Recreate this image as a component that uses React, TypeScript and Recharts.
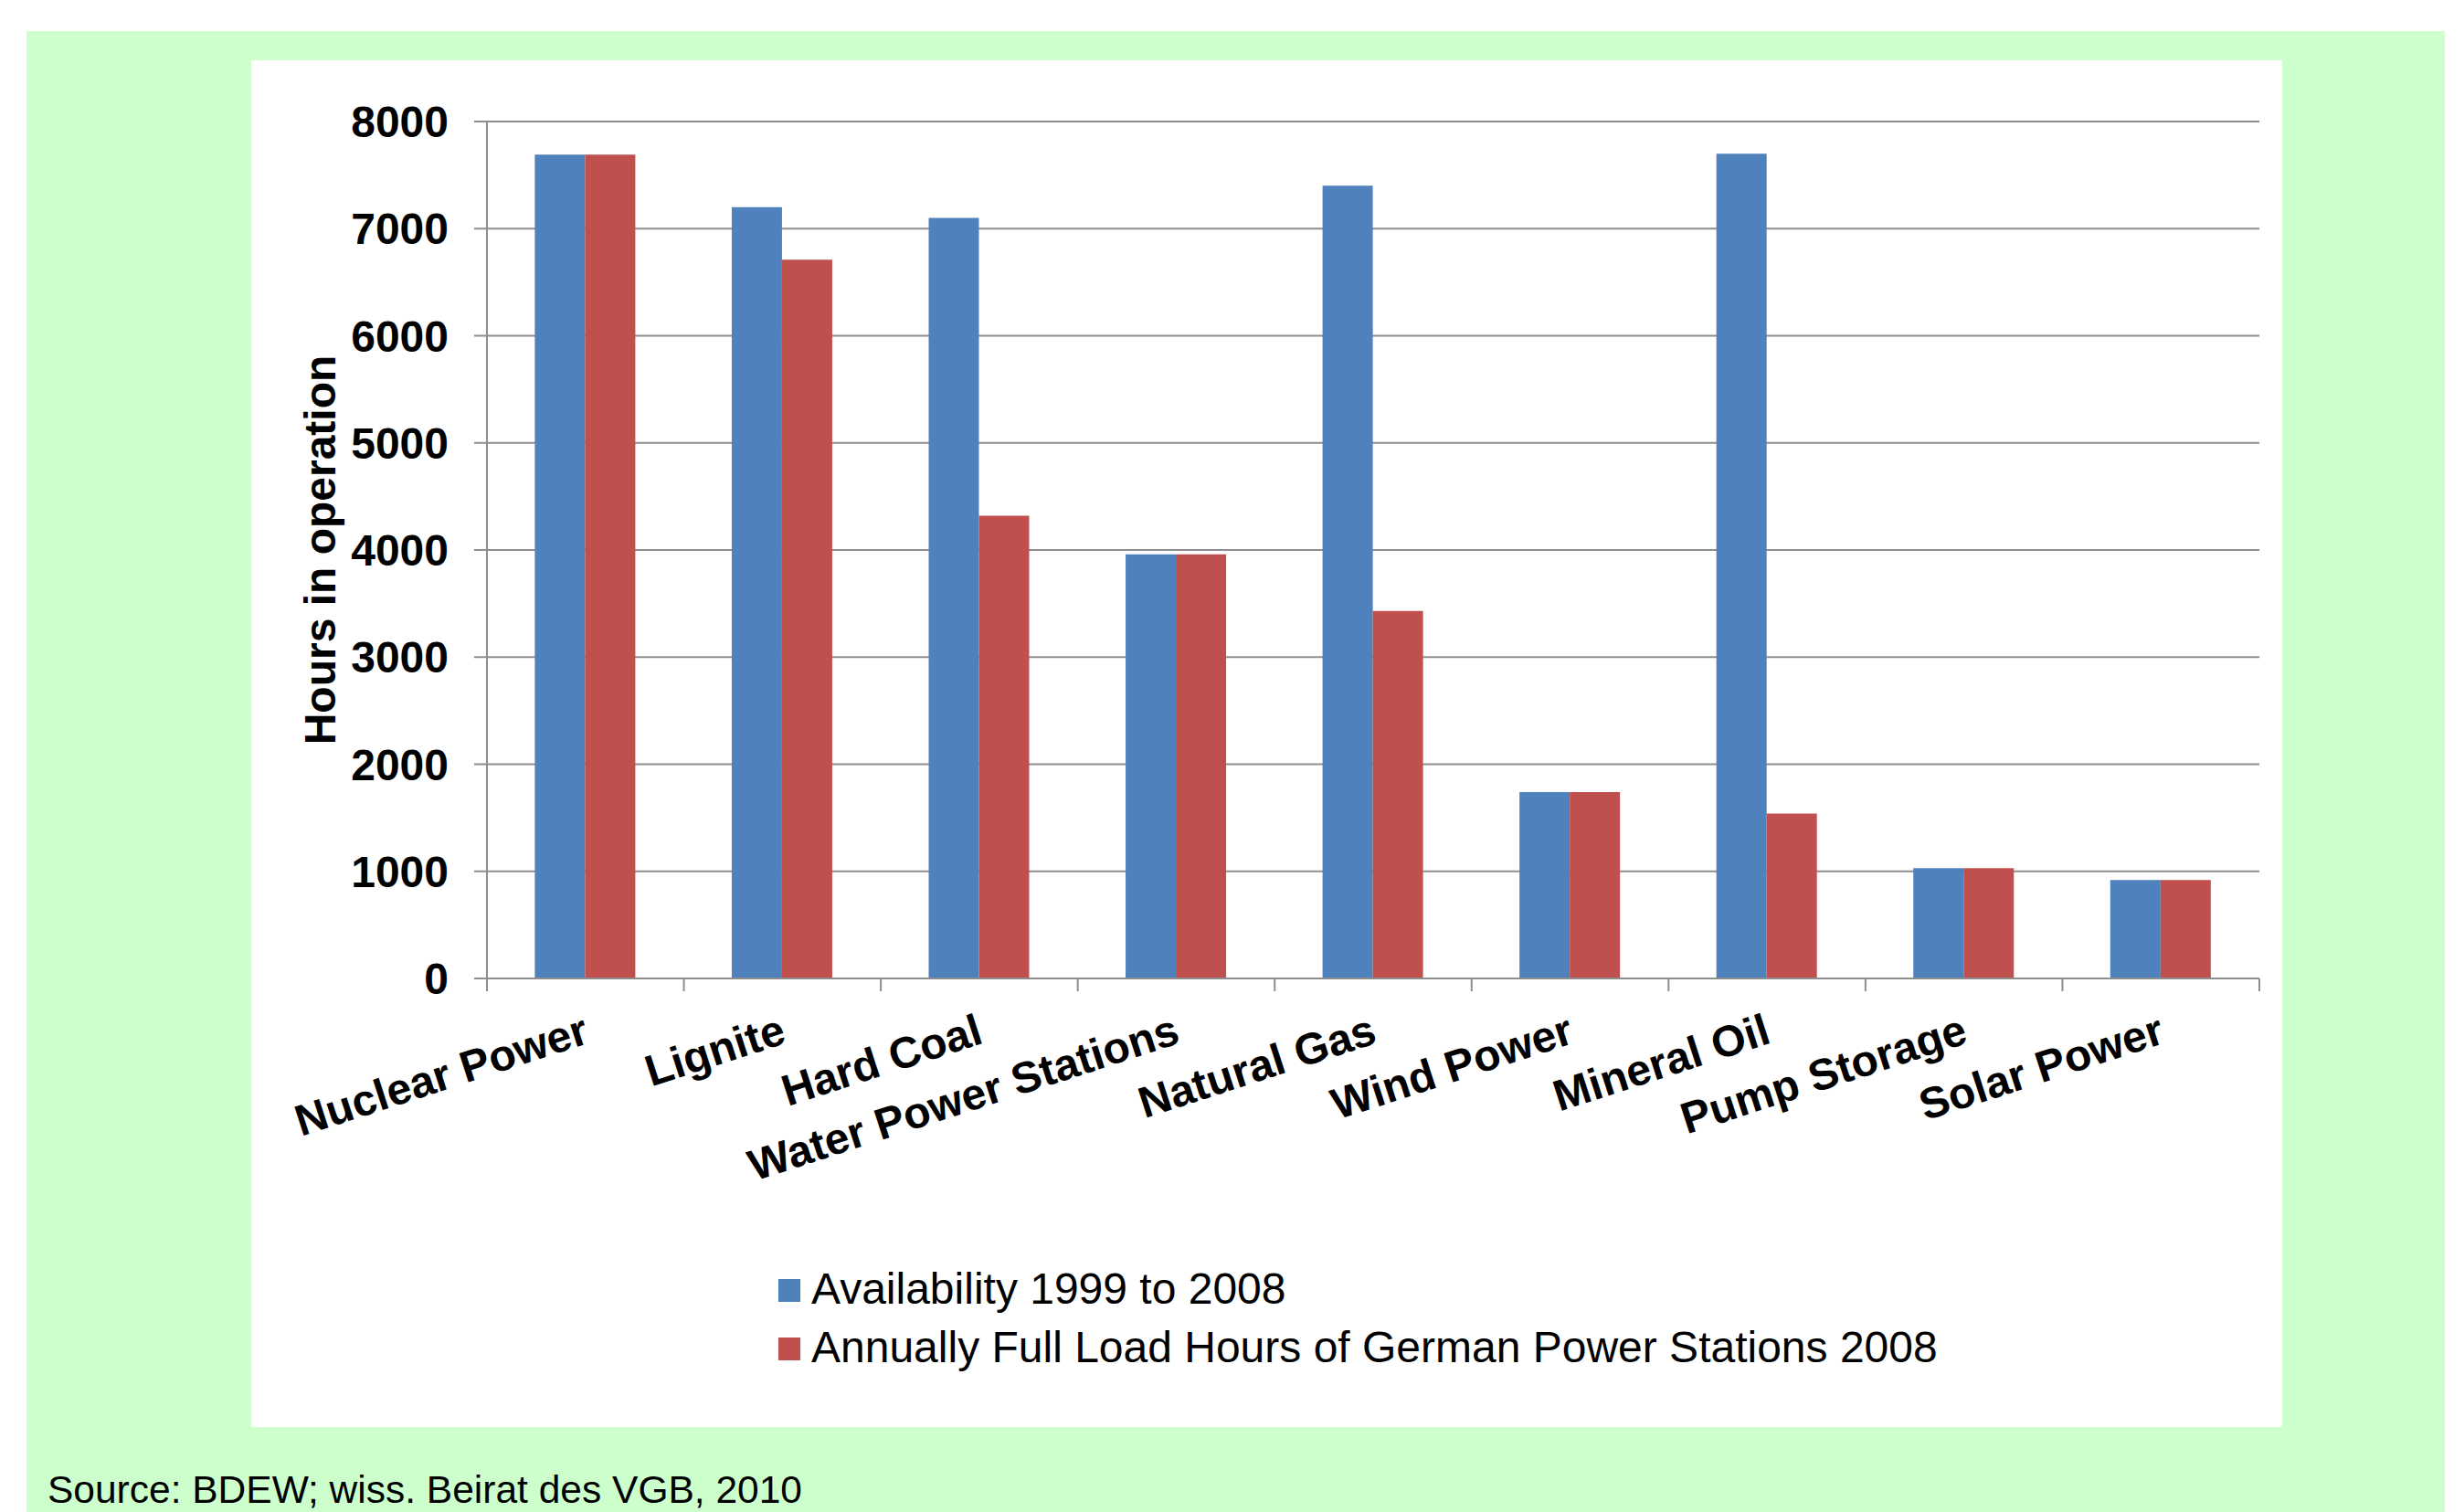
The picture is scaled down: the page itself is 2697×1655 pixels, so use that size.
import React from 'react';
import { BarChart, Bar, XAxis, YAxis, CartesianGrid, Legend } from 'recharts';

// ---- data ----
const categories = [
  'Nuclear Power',
  'Lignite',
  'Hard Coal',
  'Water Power Stations',
  'Natural Gas',
  'Wind Power',
  'Mineral Oil',
  'Pump Storage',
  'Solar Power',
];
const availability = [7690, 7200, 7100, 3960, 7400, 1740, 7700, 1030, 920];
const fullLoadHours = [7690, 6710, 4320, 3960, 3430, 1740, 1540, 1030, 920];
const yTicks = [0, 1000, 2000, 3000, 4000, 5000, 6000, 7000, 8000];
const seriesNames = [
  'Availability 1999 to 2008',
  'Annually Full Load Hours of German Power Stations 2008',
];
const axisTitle = 'Hours in operation';
const sourceNote = 'Source: BDEW; wiss. Beirat des VGB, 2010';

const data = categories.map((c, i) => ({
  category: c,
  availability: availability[i],
  fullLoad: fullLoadHours[i],
}));

// ---- styles ----
const FONT = '"Liberation Sans", Arial, Helvetica, sans-serif';
const GRAY = '#8e8e8e';
const BLUE = '#4F81BD';
const RED = '#C0504D';
const GREEN = '#CCFFCC';

const CategoryTick = (props: any) => {
  const { x, y, payload, index, width } = props;
  const half =
    payload && typeof payload.offset === 'number' && payload.offset > 0
      ? payload.offset
      : width / categories.length / 2;
  const axisY = y - 14;
  const ax = x + 6;
  const ay = axisY + 70;
  return (
    <g>
      <line x1={x - half} x2={x - half} y1={axisY} y2={axisY + 14} stroke={GRAY} strokeWidth={2} />
      {index === categories.length - 1 && (
        <line x1={x + half} x2={x + half} y1={axisY} y2={axisY + 14} stroke={GRAY} strokeWidth={2} />
      )}
      <text
        x={ax}
        y={ay}
        textAnchor="end"
        transform={`rotate(-18, ${ax}, ${ay})`}
        fontFamily={FONT}
        fontWeight="bold"
        fontSize={48}
        fill="#000"
      >
        {payload.value}
      </text>
    </g>
  );
};

const YTitle = (props: any) => {
  const vb = props.viewBox || { x: 0, y: 0, width: 0, height: 0 };
  const tx = vb.x + 92;
  const ty = vb.y + vb.height / 2;
  return (
    <text
      x={tx}
      y={ty}
      textAnchor="middle"
      transform={`rotate(-90, ${tx}, ${ty})`}
      fontFamily={FONT}
      fontWeight="bold"
      fontSize={48}
      fill="#000"
    >
      {axisTitle}
    </text>
  );
};

const LegendContent = (props: any) => {
  const payload = [...(props.payload || [])].sort(
    (a: any, b: any) => seriesNames.indexOf(a.value) - seriesNames.indexOf(b.value)
  );
  return (
    <svg width={1600} height={130} style={{ display: 'block' }}>
      {payload.map((entry: any, i: number) => (
        <g key={i}>
          <rect x={0} y={16 + i * 64} width={24} height={25} fill={entry.color} />
          <text x={36} y={43.4 + i * 64} fontFamily={FONT} fontSize={48} fill="#000">
            {entry.value}
          </text>
        </g>
      ))}
    </svg>
  );
};

export default function App() {
  return (
    <div
      style={{
        position: 'absolute',
        left: 0,
        top: 0,
        width: 2697,
        height: 1655,
        background: '#ffffff',
        overflow: 'hidden',
        fontFamily: FONT,
      }}
    >
      <div
        style={{
          position: 'absolute',
          left: 29,
          top: 34,
          width: 2647,
          height: 1621,
          background: GREEN,
        }}
      />
      <div
        style={{
          position: 'absolute',
          left: 275,
          top: 66,
          width: 2223,
          height: 1496,
          background: '#ffffff',
        }}
      >
        <BarChart
          width={2223}
          height={1496}
          data={data}
          margin={{ top: 67, right: 25, bottom: 391, left: 0 }}
          barCategoryGap="24.3%"
          barGap={0}
        >
          <CartesianGrid vertical={false} stroke={GRAY} strokeWidth={2} />
          <XAxis
            dataKey="category"
            interval={0}
            tickLine={false}
            tickSize={14}
            tickMargin={0}
            height={100}
            axisLine={{ stroke: GRAY, strokeWidth: 2 }}
            tick={(p: any) => <CategoryTick {...p} />}
          />
          <YAxis
            width={258}
            domain={[0, 8000]}
            ticks={yTicks}
            interval={0}
            tickSize={14}
            tickMargin={28}
            axisLine={{ stroke: GRAY, strokeWidth: 2 }}
            tickLine={{ stroke: GRAY, strokeWidth: 2 }}
            tick={{ fontSize: 48, fontWeight: 'bold', fill: '#000', fontFamily: FONT }}
            label={{ content: (p: any) => <YTitle {...p} /> }}
          />
          <Legend
            layout="vertical"
            verticalAlign="middle"
            align="center"
            wrapperStyle={{ left: 577, top: 1318, width: 1600, height: 130 }}
            content={(p: any) => <LegendContent {...p} />}
          />
          <Bar dataKey="availability" name={seriesNames[0]} fill={BLUE} isAnimationActive={false} />
          <Bar dataKey="fullLoad" name={seriesNames[1]} fill={RED} isAnimationActive={false} />
        </BarChart>
      </div>
      <svg
        width={2697}
        height={1655}
        style={{ position: 'absolute', left: 0, top: 0, pointerEvents: 'none' }}
      >
        <text x={52} y={1645} fontFamily={FONT} fontSize={42.5} fill="#000">
          {sourceNote}
        </text>
      </svg>
    </div>
  );
}
